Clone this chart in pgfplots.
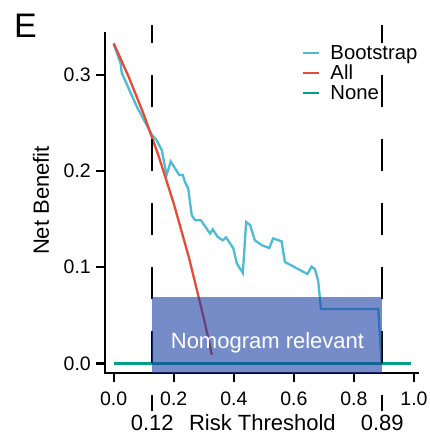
\documentclass[border=0pt]{standalone}
\usepackage{pgfplots}
\pgfplotsset{compat=1.18}
\usepackage{fontspec}
\setmainfont{Liberation Sans}
\definecolor{cboot}{HTML}{4DBBD5}
\definecolor{call}{HTML}{E64B35}
\definecolor{cnone}{HTML}{00A087}
\definecolor{crect}{RGB}{27,63,163}
\begin{document}
\begin{tikzpicture}
\useasboundingbox (0,0) rectangle (430bp,437bp);
\begin{axis}[
  at={(105bp,64bp)}, anchor=south west,
  scale only axis, width=313bp, height=340bp,
  xmin=-0.029, xmax=1.0133, ymin=-0.01, ymax=0.3437,
  axis lines*=left,
  axis line style={line width=2.4bp, line cap=rect},
  every tick/.style={line width=2.4bp, black},
  tick align=outside, major tick length=9bp,
  xtick={0,0.2,0.4,0.6,0.8,1.0},
  ytick={0,0.1,0.2,0.3},
  /pgf/number format/assume math mode=true,
  /pgf/number format/fixed, /pgf/number format/precision=1,
  /pgf/number format/fixed zerofill,
  tick label style={font=\fontsize{19.5bp}{22bp}\selectfont},
  xticklabel style={anchor=base, yshift=-23bp},
  yticklabel style={anchor=east, inner sep=0pt, xshift=-5bp},
  clip=false,
  legend style={draw=none, fill=none, font=\fontsize{20.3bp}{20bp}\selectfont,
    inner sep=0pt, row sep=0bp, column sep=10bp,
    nodes={inner sep=0pt, text height=14.5bp, text depth=5.5bp, anchor=base west},
    at={(axis cs:0.627,0.3312)}, anchor=north west},
  legend cell align=left,
  legend image code/.code={\draw[#1] (0bp,7bp) -- (16bp,7bp);},
]
\addplot[cboot, line width=2.3bp] coordinates {
(0.0,0.332) (0.023,0.312) (0.027,0.302) (0.077,0.267) (0.127,0.238)
(0.143,0.232) (0.160,0.222) (0.176,0.196) (0.190,0.210) (0.218,0.196)
(0.230,0.196) (0.237,0.189) (0.248,0.182) (0.260,0.154) (0.271,0.149)
(0.290,0.149) (0.321,0.135) (0.330,0.1395) (0.345,0.132) (0.363,0.128)
(0.374,0.131) (0.398,0.120) (0.410,0.104) (0.430,0.094) (0.441,0.147)
(0.454,0.144) (0.470,0.128) (0.493,0.123) (0.518,0.120) (0.531,0.130)
(0.559,0.127) (0.570,0.1055) (0.645,0.093) (0.659,0.1006) (0.670,0.098)
(0.681,0.0857) (0.690,0.0566) (0.881,0.0566) (0.892,0.0)
};
\addlegendentry{Bootstrap}
\addplot[call, line width=2.3bp] coordinates {
(0.0,0.333) (0.05,0.298) (0.10,0.259) (0.15,0.2153) (0.20,0.1662)
(0.25,0.1107) (0.30,0.0471) (0.327,0.0089)
};
\addlegendentry{All}
\addplot[cnone, line width=2.3bp] coordinates {(0.0,0.0) (0.99,0.0)};
\addlegendentry{None}
\draw[black, line width=2.4bp, dash pattern=on 32bp off 32bp] (axis cs:0.1285,0) -- (axis cs:0.1285,0.352);
\draw[black, line width=2.4bp, dash pattern=on 32bp off 32bp] (axis cs:0.894,0) -- (axis cs:0.894,0.352);
\fill[crect, fill opacity=0.6] (axis cs:0.1285,-0.01) rectangle (axis cs:0.894,0.0694);
\node[white, anchor=base, font=\fontsize{22bp}{22bp}\selectfont] at (axis cs:0.512,0.0157) {Nomogram relevant};
\draw[black, line width=2bp] ([yshift=-22bp]axis cs:0.1285,-0.01) -- ([yshift=-38bp]axis cs:0.1285,-0.01);
\draw[black, line width=2bp] ([yshift=-22bp]axis cs:0.894,-0.01) -- ([yshift=-38bp]axis cs:0.894,-0.01);
\node[anchor=base, font=\fontsize{22bp}{22bp}\selectfont] at ([yshift=-57bp]axis cs:0.1285,-0.01) {0.12};
\node[anchor=base, font=\fontsize{22bp}{22bp}\selectfont] at ([yshift=-57bp]axis cs:0.894,-0.01) {0.89};
\node[anchor=base, font=\fontsize{22bp}{22bp}\selectfont] at ([yshift=-57bp]axis cs:0.495,-0.01) {Risk Threshold};
\node[anchor=center, rotate=90, font=\fontsize{22bp}{22bp}\selectfont] at ([xshift=-64bp,yshift=2.5bp]rel axis cs:0,0.5) {Net Benefit};
\end{axis}
\node[anchor=base west, inner sep=0pt, font=\fontsize{34bp}{34bp}\selectfont] at (14bp,399.7bp) {E};
\end{tikzpicture}
\end{document}
